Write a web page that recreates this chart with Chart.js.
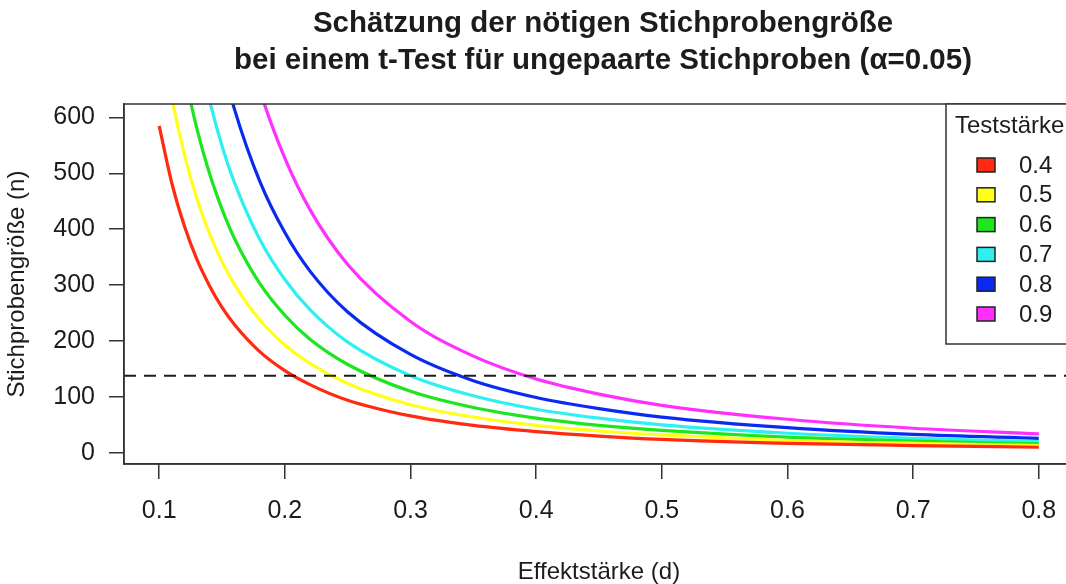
<!DOCTYPE html>
<html lang="de">
<head>
<meta charset="utf-8">
<title>Stichprobengröße t-Test</title>
<script src="https://cdn.jsdelivr.net/npm/chart.js@4/dist/chart.umd.min.js"></script>
<style>
  html, body { margin: 0; padding: 0; background: #fff; overflow: hidden; }
  #wrap { position: relative; width: 1090px; height: 584px; }
</style>
</head>
<body>
<div id="wrap"><canvas id="chart"></canvas></div>
<script>
// Effect sizes (d) at which the sample sizes were read
const effectSizes = [0.10, 0.11, 0.12, 0.13, 0.14, 0.15, 0.16, 0.18, 0.20, 0.22, 0.25, 0.30, 0.35, 0.40, 0.45, 0.50, 0.60, 0.70, 0.80];

// Required n per group for each power level
const n04 = [585, 483, 406, 346, 299, 260, 229, 181, 147, 122, 94, 66, 49, 38, 30, 24, 17, 13, 10];
const n05 = [769, 636, 534, 455, 393, 342, 301, 238, 193, 160, 124, 86, 64, 49, 39, 32, 22, 17, 13];
const n06 = [980, 810, 681, 580, 500, 436, 383, 303, 246, 203, 158, 110, 81, 62, 49, 40, 28, 21, 16];
const n07 = [1235, 1021, 858, 731, 631, 549, 483, 382, 310, 256, 198, 138, 102, 78, 62, 50, 35, 26, 20];
const n08 = [1571, 1298, 1091, 930, 802, 699, 614, 486, 394, 325, 252, 176, 129, 99, 79, 64, 45, 33, 26];
const n09 = [2103, 1738, 1461, 1245, 1074, 935, 822, 650, 527, 435, 337, 235, 173, 132, 105, 85, 60, 44, 34];

const powerLabels = ['0.4', '0.5', '0.6', '0.7', '0.8', '0.9'];
const powerColors = ['#FF2A10', '#FFFF1A', '#1EE61E', '#2EF0F0', '#0A2AF2', '#FF30FF'];
const series = [n04, n05, n06, n07, n08, n09];

// horizontal reference line
const refN = 138;

const xTicks = [0.1, 0.2, 0.3, 0.4, 0.5, 0.6, 0.7, 0.8];
const xTickLabels = ['0.1', '0.2', '0.3', '0.4', '0.5', '0.6', '0.7', '0.8'];
const yTicks = [0, 100, 200, 300, 400, 500, 600];

const titleLines = ['Schätzung der nötigen Stichprobengröße', 'bei einem t-Test für ungepaarte Stichproben (α=0.05)'];
const legendTitle = 'Teststärke';

const FONT = '"Liberation Sans", Arial, Helvetica, sans-serif';
const INK = '#1c1c1c';

const datasets = series.map((vals, i) => ({
  label: powerLabels[i],
  data: vals.map((v, j) => ({ x: effectSizes[j], y: v })),
  borderColor: powerColors[i],
  borderWidth: 3.2,
  pointRadius: 0,
  cubicInterpolationMode: 'monotone',
  fill: false
}));

// title, box, dashed line and legend drawn on top of the chart area
const decorations = {
  id: 'decorations',
  afterDatasetsDraw(chart) {
    const { ctx, chartArea: a, scales } = chart;
    ctx.save();

    // dashed reference line
    const yRef = scales.y.getPixelForValue(refN);
    ctx.strokeStyle = INK;
    ctx.lineWidth = 2;
    ctx.setLineDash([12, 8]);
    ctx.beginPath();
    ctx.moveTo(a.left, yRef);
    ctx.lineTo(a.right, yRef);
    ctx.stroke();
    ctx.setLineDash([]);

    // plot box
    ctx.lineWidth = 1.5;
    ctx.strokeStyle = '#333';
    ctx.strokeRect(a.left, a.top, a.right - a.left, a.bottom - a.top);

    // title
    ctx.fillStyle = INK;
    ctx.textAlign = 'center';
    ctx.textBaseline = 'middle';
    ctx.font = 'bold 29.5px ' + FONT;
    const cx = (a.left + a.right) / 2 + 4;
    ctx.fillText(titleLines[0], cx, 24);
    ctx.fillText(titleLines[1], cx, 61);

    // legend
    const lx = 946, ly = a.top, lh = 240;
    ctx.fillStyle = '#fff';
    ctx.fillRect(lx, ly, chart.width - lx, lh);
    ctx.strokeStyle = '#333';
    ctx.strokeRect(lx, ly, chart.width - lx + 10, lh);
    ctx.fillStyle = INK;
    ctx.textAlign = 'left';
    ctx.font = '24px ' + FONT;
    ctx.fillText(legendTitle, 955, 126);
    powerLabels.forEach((lab, i) => {
      const yy = 165 + i * 29.8;
      ctx.fillStyle = powerColors[i];
      ctx.fillRect(977, yy - 7, 18, 14);
      ctx.strokeStyle = '#222';
      ctx.lineWidth = 1.5;
      ctx.strokeRect(977, yy - 7, 18, 14);
      ctx.fillStyle = INK;
      ctx.fillText(lab, 1019, yy + 1);
    });

    ctx.restore();
  }
};

new Chart(document.getElementById('chart'), {
  type: 'line',
  data: { datasets },
  plugins: [decorations],
  options: {
    responsive: true,
    maintainAspectRatio: false,
    animation: false,
    layout: { padding: { top: 104, right: 16, bottom: 0, left: 0 } },
    plugins: {
      legend: { display: false },
      title: { display: false },
      tooltip: { enabled: false }
    },
    scales: {
      x: {
        type: 'linear',
        min: 0.072,
        max: 0.828,
        afterFit: (s) => { s.height = 120; },
        afterBuildTicks: (s) => { s.ticks = xTicks.map(v => ({ value: v })); },
        ticks: {
          callback: (v, i) => xTickLabels[i],
          color: INK,
          font: { family: FONT, size: 25 },
          padding: 17,
          maxRotation: 0
        },
        grid: {
          drawOnChartArea: false,
          drawTicks: true,
          tickLength: 15,
          color: '#333',
          lineWidth: 1.5
        },
        border: { display: true, color: '#333', width: 1.5 },
        title: {
          display: true,
          text: 'Effektstärke (d)',
          color: INK,
          font: { family: FONT, size: 24, lineHeight: 1 },
          padding: { top: 0, bottom: 0 }
        }
      },
      y: {
        type: 'linear',
        min: -20,
        max: 624,
        afterFit: (s) => { s.width = 124; },
        afterBuildTicks: (s) => { s.ticks = yTicks.map(v => ({ value: v })); },
        ticks: {
          color: INK,
          font: { family: FONT, size: 25 },
          padding: 14
        },
        grid: {
          drawOnChartArea: false,
          drawTicks: true,
          tickLength: 15,
          color: '#333',
          lineWidth: 1.5
        },
        border: { display: true, color: '#333', width: 1.5 },
        title: {
          display: true,
          text: 'Stichprobengröße (n)',
          color: INK,
          font: { family: FONT, size: 24 },
          padding: { top: 3, bottom: 0 }
        }
      }
    }
  }
});
</script>
</body>
</html>
